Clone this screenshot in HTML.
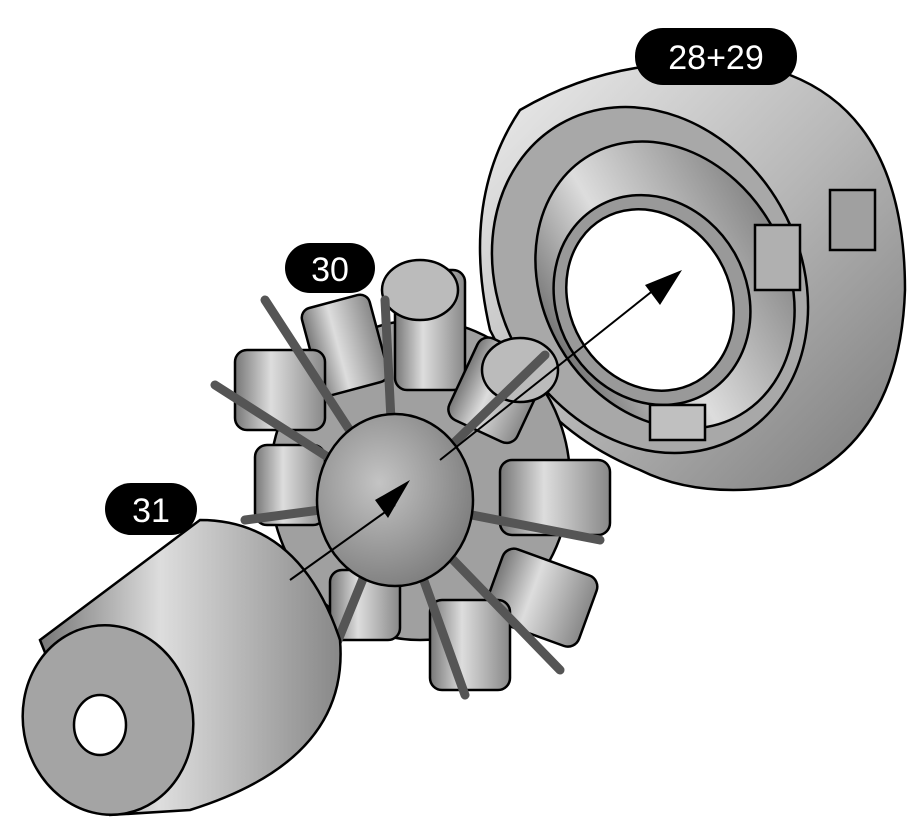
<!DOCTYPE html>
<html><head><style>
html,body{margin:0;padding:0;background:#fff;}
svg{display:block;}
text{font-family:"Liberation Sans",sans-serif;}
</style></head><body>
<svg width="917" height="835" viewBox="0 0 917 835" xmlns="http://www.w3.org/2000/svg">
<defs>
<linearGradient id="g1" x1="0" y1="0" x2="1" y2="1">
<stop offset="0" stop-color="#eee"/><stop offset="0.5" stop-color="#b8b8b8"/><stop offset="1" stop-color="#7a7a7a"/></linearGradient>
<linearGradient id="g2" x1="0" y1="0" x2="1" y2="0">
<stop offset="0" stop-color="#777"/><stop offset="0.4" stop-color="#ddd"/><stop offset="1" stop-color="#888"/></linearGradient>
<radialGradient id="g3" cx="0.4" cy="0.4" r="0.7">
<stop offset="0" stop-color="#c4c4c4"/><stop offset="1" stop-color="#777"/></radialGradient>
</defs>
<!-- cowling ring -->
<g stroke="#000" stroke-width="2.5">
<path d="M520,110 Q640,40 790,75 Q905,120 905,290 Q900,440 790,485 Q700,500 640,470 Q540,430 490,330 Q460,200 520,110Z" fill="url(#g1)"/>
<ellipse cx="650" cy="280" rx="150" ry="180" transform="rotate(-30 650 280)" fill="#a8a8a8"/>
<ellipse cx="665" cy="285" rx="122" ry="150" transform="rotate(-30 665 285)" fill="url(#g2)"/>
<ellipse cx="652" cy="300" rx="95" ry="108" transform="rotate(-30 652 300)" fill="#999"/>
<ellipse cx="650" cy="300" rx="80" ry="94" transform="rotate(-30 650 300)" fill="#fff"/>
<rect x="755" y="225" width="45" height="65" fill="#b0b0b0"/>
<rect x="830" y="190" width="45" height="60" fill="#a0a0a0"/>
<rect x="650" y="405" width="55" height="35" fill="#c0c0c0"/>
</g>
<!-- engine -->
<g stroke="#000" stroke-width="2.5">
<ellipse cx="420" cy="480" rx="150" ry="160" fill="#a0a0a0"/>
<g fill="url(#g2)">
<rect x="310" y="300" width="70" height="90" rx="10" transform="rotate(-15 345 345)"/>
<rect x="395" y="270" width="70" height="120" rx="12"/>
<rect x="460" y="345" width="75" height="90" rx="12" transform="rotate(25 497 390)"/>
<rect x="500" y="460" width="110" height="75" rx="12"/>
<rect x="490" y="560" width="100" height="75" rx="12" transform="rotate(20 540 600)"/>
<rect x="430" y="600" width="80" height="90" rx="12"/>
<rect x="235" y="350" width="90" height="80" rx="12"/>
<rect x="255" y="445" width="70" height="80" rx="12"/>
<rect x="330" y="570" width="70" height="70" rx="12"/>
</g>
<ellipse cx="520" cy="370" rx="38" ry="32" fill="#bbb"/>
<ellipse cx="420" cy="290" rx="38" ry="30" fill="#bbb"/>
<g stroke-width="9" stroke="#555" stroke-linecap="round">
<line x1="395" y1="500" x2="265" y2="300"/>
<line x1="395" y1="500" x2="385" y2="300"/>
<line x1="395" y1="500" x2="545" y2="355"/>
<line x1="395" y1="500" x2="600" y2="540"/>
<line x1="395" y1="500" x2="560" y2="670"/>
<line x1="395" y1="500" x2="465" y2="695"/>
<line x1="395" y1="500" x2="215" y2="385"/>
<line x1="395" y1="500" x2="245" y2="520"/>
<line x1="395" y1="500" x2="330" y2="660"/>
</g>
<ellipse cx="395" cy="500" rx="78" ry="86" fill="url(#g3)"/>
</g>
<!-- cone -->
<g stroke="#000" stroke-width="2.5">
<path d="M40,640 L200,520 Q300,520 340,640 Q350,760 190,810 L110,815 Z" fill="url(#g2)"/>
<ellipse cx="108" cy="720" rx="85" ry="95" transform="rotate(-10 108 720)" fill="#a4a4a4"/>
<ellipse cx="100" cy="725" rx="26" ry="30" fill="#fff"/>
</g>
<!-- arrows -->
<g stroke="#000" stroke-width="2">
<line x1="290" y1="580" x2="395" y2="505"/>
<line x1="440" y1="460" x2="660" y2="285"/>
</g>
<polygon points="410,480 375,500 388,518" fill="#000"/>
<polygon points="682,270 645,285 660,305" fill="#000"/>
<!-- labels -->
<rect x="635" y="28" width="162" height="57" rx="28" fill="#000"/>
<text x="716" y="69" font-size="34" fill="#fff" text-anchor="middle">28+29</text>
<rect x="285" y="243" width="90" height="50" rx="25" fill="#000"/>
<text x="330" y="281" font-size="34" fill="#fff" text-anchor="middle">30</text>
<rect x="105" y="483" width="92" height="52" rx="26" fill="#000"/>
<text x="151" y="522" font-size="34" fill="#fff" text-anchor="middle">31</text>
</svg>
</body></html>
